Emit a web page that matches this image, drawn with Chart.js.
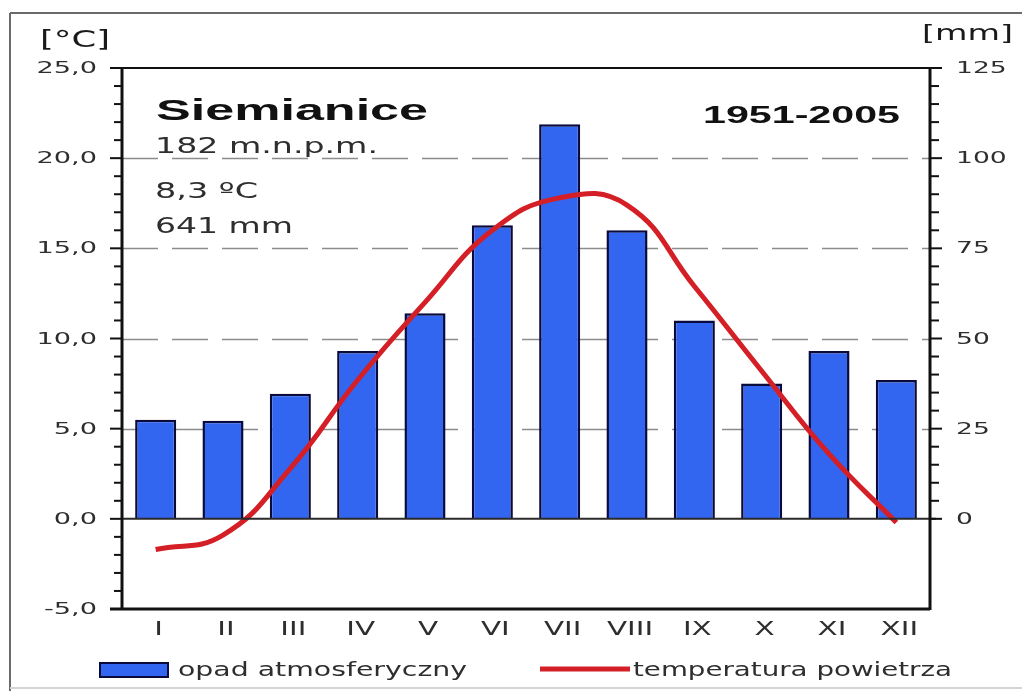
<!DOCTYPE html>
<html lang="pl">
<head>
    <meta charset="UTF-8">
    <title>Siemianice 1951-2005</title>
    <script src="https://cdn.jsdelivr.net/npm/chart.js"></script>
    <style>
        html, body {
            margin: 0;
            padding: 0;
            background-color: #ffffff;
        }
        canvas {
            display: block;
        }
    </style>
</head>
<body>
    <canvas id="chart" width="1022" height="691"></canvas>

    <script>
        // monthly values
        const months = ['I', 'II', 'III', 'IV', 'V', 'VI', 'VII', 'VIII', 'IX', 'X', 'XI', 'XII'];
        const precipitation = [27.5, 27.2, 34.7, 46.5, 57.0, 81.4, 109.4, 80.0, 55.0, 37.5, 46.5, 38.5];
        const temperature = [-1.7, -0.9, 2.8, 7.7, 12.0, 16.0, 17.8, 17.4, 12.9, 8.2, 3.6, -0.2];

        const tempTicks = [-5, 0, 5, 10, 15, 20, 25];
        const tempTickLabels = ['-5,0', '0,0', '5,0', '10,0', '15,0', '20,0', '25,0'];
        const precipTicks = [0, 25, 50, 75, 100, 125];
        const precipTickLabels = ['0', '25', '50', '75', '100', '125'];

        const stationName = 'Siemianice';
        const stationInfo = ['182 m.n.p.m.', '8,3 ºC', '641 mm'];
        const period = '1951-2005';
        const legendLabels = ['opad atmosferyczny', 'temperatura powietrza'];

        const barBlue = '#3366f0';
        const barEdge = '#0a0a3c';
        const lineRed = '#d41f26';
        const textGrey = '#2e2e2e';
        const plainFont = '"DejaVu Sans"';

        // text in the original is drawn wide, so stretch it horizontally
        function stretchText(ctx, text, x, y, font, sx, align) {
            ctx.save();
            ctx.font = font;
            const w = ctx.measureText(text).width * sx;
            let left = x;
            if (align === 'right') left = x - w;
            if (align === 'center') left = x - w / 2;
            ctx.translate(left, y);
            ctx.scale(sx, 1);
            ctx.textAlign = 'left';
            ctx.fillText(text, 0, 0);
            ctx.restore();
        }

        function fitText(ctx, text, x, y, font, width) {
            ctx.save();
            ctx.font = font;
            const sx = width / ctx.measureText(text).width;
            ctx.restore();
            stretchText(ctx, text, x, y, font, sx, 'left');
        }

        function line(ctx, x1, y1, x2, y2) {
            ctx.beginPath();
            ctx.moveTo(x1, y1);
            ctx.lineTo(x2, y2);
            ctx.stroke();
        }

        const decor = {
            id: 'decor',
            beforeDatasetsDraw(chart) {
                const ctx = chart.ctx;
                const a = chart.chartArea;
                const y = chart.scales.y;
                ctx.save();
                ctx.strokeStyle = '#8c8c8c';
                ctx.lineWidth = 1.5;
                ctx.setLineDash([36, 14]);
                tempTicks.forEach(v => {
                    if (v <= 0 || v >= 25) return;
                    const py = Math.round(y.getPixelForValue(v)) + 0.5;
                    line(ctx, a.left, py, a.right, py);
                });
                ctx.restore();
            },
            afterDatasetsDraw(chart) {
                const ctx = chart.ctx;
                const a = chart.chartArea;
                const x = chart.scales.x;
                const y = chart.scales.y;
                const y2 = chart.scales.y2;
                ctx.save();

                // zero line
                ctx.strokeStyle = '#2a2a2a';
                ctx.lineWidth = 2;
                const y0 = y.getPixelForValue(0);
                line(ctx, a.left, y0, a.right + 6, y0);

                // plot frame
                ctx.strokeStyle = '#111111';
                ctx.lineWidth = 2;
                line(ctx, a.left, a.top, a.right, a.top);
                ctx.lineWidth = 3;
                line(ctx, a.left, a.top - 1, a.left, a.bottom + 1);
                line(ctx, a.right, a.top - 1, a.right, a.bottom + 1);
                line(ctx, a.left - 12, a.bottom, a.right, a.bottom);

                // left axis ticks, every 1 degree
                ctx.lineWidth = 2;
                for (let v = -5; v <= 25; v++) {
                    const py = y.getPixelForValue(v);
                    const len = v % 5 === 0 ? 12 : 8;
                    line(ctx, a.left - len, py, a.left, py);
                }
                // right axis ticks, every 5 mm
                for (let v = 0; v <= 125; v += 5) {
                    const py = y2.getPixelForValue(v);
                    const len = v % 25 === 0 ? 12 : 9;
                    line(ctx, a.right, py, a.right + len, py);
                }

                // tick labels
                ctx.fillStyle = textGrey;
                ctx.textBaseline = 'middle';
                tempTicks.forEach((v, i) => {
                    stretchText(ctx, tempTickLabels[i], 97, y.getPixelForValue(v) + 1, '16px ' + plainFont, 1.7, 'right');
                });
                precipTicks.forEach((v, i) => {
                    stretchText(ctx, precipTickLabels[i], 956, y2.getPixelForValue(v) + 1, '16px ' + plainFont, 1.66, 'left');
                });
                months.forEach((m, i) => {
                    stretchText(ctx, m, x.getPixelForValue(i) + 3, 630, '19px ' + plainFont, 1.55, 'center');
                });

                // axis units
                ctx.textBaseline = 'alphabetic';
                ctx.fillStyle = '#1a1a1a';
                fitText(ctx, '[°C]', 40, 47, '23px ' + plainFont, 70);
                fitText(ctx, '[mm]', 922, 40, '22px ' + plainFont, 91);

                // station box
                ctx.fillStyle = '#111111';
                fitText(ctx, stationName, 156, 120, 'bold 30px "Liberation Sans"', 272);
                fitText(ctx, period, 703, 123, 'bold 24px "Liberation Sans"', 197);
                ctx.fillStyle = textGrey;
                fitText(ctx, stationInfo[0], 155, 153, '22px ' + plainFont, 223);
                fitText(ctx, stationInfo[1], 155, 198, '22px ' + plainFont, 103);
                fitText(ctx, stationInfo[2], 155, 233, '22px ' + plainFont, 138);

                // legend
                ctx.fillStyle = barBlue;
                ctx.fillRect(100, 663, 68, 14);
                ctx.strokeStyle = barEdge;
                ctx.lineWidth = 2;
                ctx.strokeRect(100, 663, 68, 14);
                ctx.strokeStyle = lineRed;
                ctx.lineWidth = 5;
                line(ctx, 540, 669, 630, 669);
                ctx.fillStyle = textGrey;
                fitText(ctx, legendLabels[0], 178, 676, '20px ' + plainFont, 289);
                fitText(ctx, legendLabels[1], 633, 676, '20px ' + plainFont, 319);

                // outer frame
                ctx.strokeStyle = '#6a6a6a';
                ctx.lineWidth = 2;
                line(ctx, 10, 13, 1022, 13);
                line(ctx, 10, 13, 10, 691);
                ctx.strokeStyle = '#d4d4d4';
                line(ctx, 10, 688, 1022, 688);

                ctx.restore();
            }
        };

        const ctx = document.getElementById('chart').getContext('2d');
        const chart = new Chart(ctx, {
            type: 'bar',
            data: {
                labels: months,
                datasets: [
                    {
                        type: 'line',
                        label: legendLabels[1],
                        data: temperature,
                        yAxisID: 'y',
                        borderColor: lineRed,
                        borderWidth: 5,
                        pointRadius: 0,
                        tension: 0.45,
                        fill: false,
                        order: 0
                    },
                    {
                        type: 'bar',
                        label: legendLabels[0],
                        data: precipitation,
                        yAxisID: 'y2',
                        backgroundColor: barBlue,
                        borderColor: barEdge,
                        borderWidth: 2.5,
                        borderSkipped: 'bottom',
                        barPercentage: 0.61,
                        categoryPercentage: 1.0,
                        order: 1
                    }
                ]
            },
            options: {
                responsive: false,
                animation: false,
                layout: {
                    padding: { left: 122, top: 68, right: 92, bottom: 82 }
                },
                scales: {
                    x: {
                        display: false,
                        offset: true
                    },
                    y: {
                        display: false,
                        min: -5,
                        max: 25
                    },
                    y2: {
                        display: false,
                        position: 'right',
                        min: -25,
                        max: 125
                    }
                },
                plugins: {
                    legend: { display: false },
                    tooltip: { enabled: false }
                }
            },
            plugins: [decor]
        });
    </script>
</body>
</html>
